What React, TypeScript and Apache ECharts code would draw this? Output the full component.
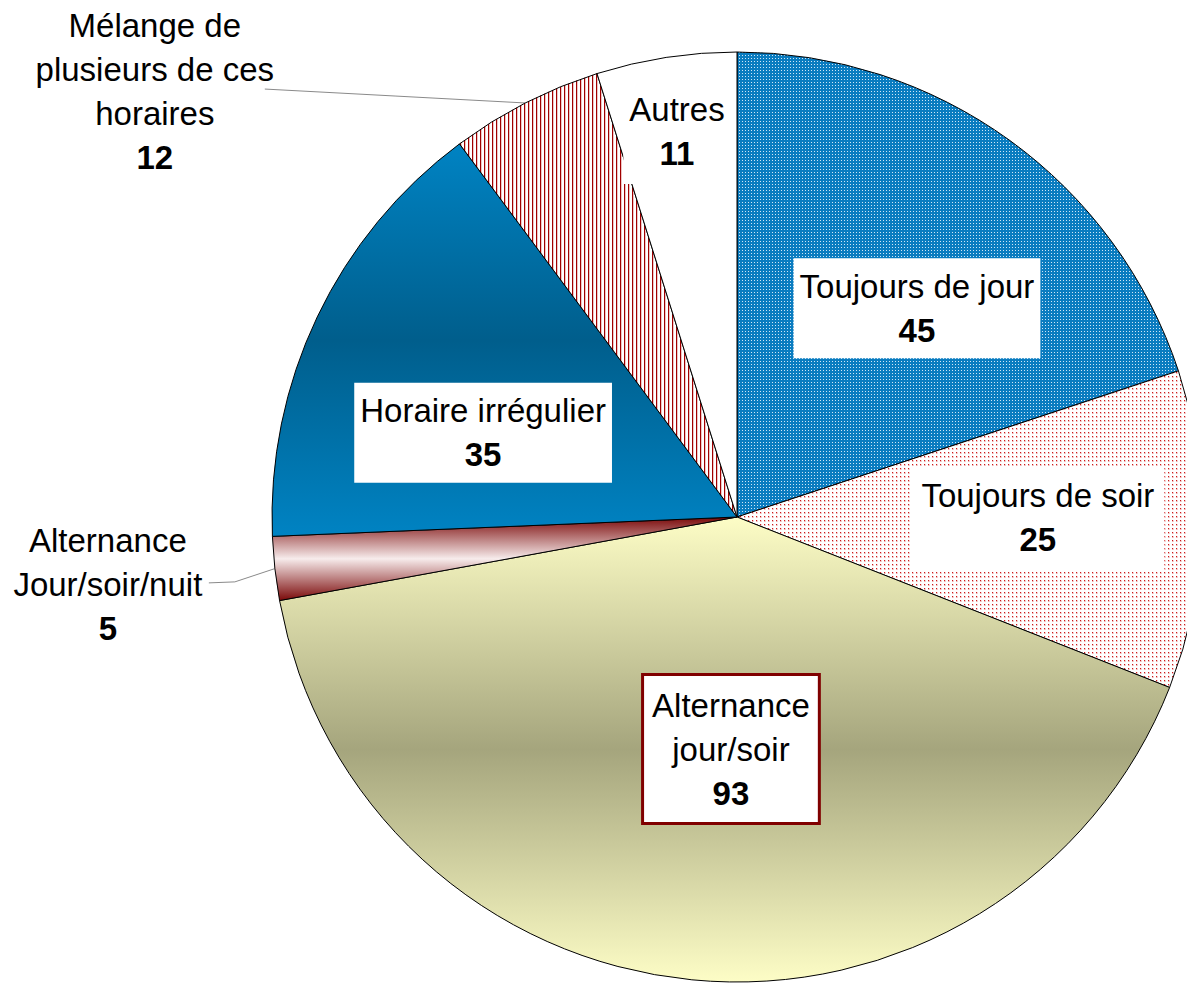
import React, { useEffect, useRef } from 'react';
import * as echarts from 'echarts';

// ---- data ----
const categories = [
  'Toujours de jour',
  'Toujours de soir',
  'Alternance\njour/soir',
  'Alternance\nJour/soir/nuit',
  'Horaire irrégulier',
  'Mélange de\nplusieurs de ces\nhoraires',
  'Autres',
];
const values = [45, 25, 93, 5, 35, 12, 11];

// ---- layout / style (not data) ----
const W = 1187;
const H = 983;
const CX = 737;
const CY = 517;
const R = 465;
const FONT = '"Liberation Sans", Arial, Helvetica, sans-serif';

// label centre offsets from the pie centre, in units of the radius
const labelOffsets: number[][] = [
  [0.387, -0.449],
  [0.647, 0.002],
  [-0.013, 0.499],
  [-1.353, 0.146],
  [-0.546, -0.181],
  [-1.252, -0.916],
  [-0.129, -0.828],
];
const outsideLabel = [false, false, false, true, false, true, false];
// end of leader line relative to label centre (px)
const leaderEnd: Record<number, number[]> = { 3: [101, -2], 5: [110, -2] };

function makePattern(w: number, h: number, draw: (ctx: CanvasRenderingContext2D) => void) {
  const c = document.createElement('canvas');
  c.width = w;
  c.height = h;
  const ctx = c.getContext('2d')!;
  draw(ctx);
  return { image: c, repeat: 'repeat', imageWidth: w, imageHeight: h } as any;
}

function vGrad(edge: string, mid: string) {
  return new echarts.graphic.LinearGradient(0, 0, 0, 1, [
    { offset: 0, color: edge },
    { offset: 0.5, color: mid },
    { offset: 1, color: edge },
  ]);
}

export default function App() {
  const ref = useRef<HTMLDivElement>(null);

  useEffect(() => {
    if (!ref.current) return;
    const chart = echarts.init(ref.current, undefined, { renderer: 'svg' });

    const bluePattern = makePattern(3, 3, (ctx) => {
      ctx.fillStyle = '#0a7cc0';
      ctx.fillRect(0, 0, 3, 3);
      ctx.fillStyle = '#cfe6f6';
      ctx.fillRect(1, 1, 1, 1);
    });
    const redDotPattern = makePattern(4, 4, (ctx) => {
      ctx.fillStyle = '#ffffff';
      ctx.fillRect(0, 0, 4, 4);
      ctx.fillStyle = '#f6d2d2';
      ctx.fillRect(0, 0, 2, 2);
      ctx.fillStyle = '#cc1c1c';
      ctx.fillRect(0, 0, 1, 1);
      ctx.fillStyle = '#ecb0b0';
      ctx.fillRect(0, 1, 1, 1);
    });
    const stripePattern = makePattern(4, 4, (ctx) => {
      ctx.fillStyle = '#ffffff';
      ctx.fillRect(0, 0, 4, 4);
      ctx.fillStyle = '#a00000';
      ctx.fillRect(0, 0, 1, 4);
      ctx.fillStyle = '#eec4c4';
      ctx.fillRect(1, 0, 1, 4);
    });

    const fills: any[] = [
      bluePattern,
      redDotPattern,
      vGrad('#fdfdc6', '#a5a57d'),
      vGrad('#7a0808', '#f7ecec'),
      vGrad('#0083c3', '#005e8c'),
      stripePattern,
      '#ffffff',
    ];

    const boxStyles: any[] = [
      { backgroundColor: '#fff', padding: [6, 6, 6, 6] },
      { backgroundColor: '#fff', padding: [8, 10, 8, 10] },
      { backgroundColor: '#fff', padding: [7, 8, 7, 8], borderColor: '#800000', borderWidth: 3 },
      {},
      { backgroundColor: '#fff', padding: [6, 6, 6, 6] },
      {},
      { backgroundColor: '#fff', padding: [8, 6, 8, 6] },
    ];

    const total = values.reduce((a, b) => a + b, 0);
    const midAngles: number[] = [];
    let acc = 0;
    values.forEach((v) => {
      midAngles.push(((acc + v / 2) / total) * Math.PI * 2);
      acc += v;
    });

    const data = categories.map((name, i) => ({
      name,
      value: values[i],
      itemStyle: { color: fills[i] },
      label: {
        position: outsideLabel[i] ? 'outside' : 'inside',
        ...boxStyles[i],
      },
      labelLine: { show: outsideLabel[i] },
    }));

    chart.setOption({
      animation: false,
      backgroundColor: '#ffffff',
      series: [
        {
          type: 'pie',
          center: [CX, CY],
          radius: R,
          startAngle: 90,
          clockwise: true,
          avoidLabelOverlap: false,
          silent: true,
          emphasis: { disabled: true },
          itemStyle: { borderColor: '#000000', borderWidth: 1 },
          label: {
            show: true,
            formatter: '{n|{b}}\n{v|{c}}',
            color: '#000',
            fontFamily: FONT,
            rich: {
              n: { fontSize: 33, fontFamily: FONT, color: '#000', lineHeight: 44, align: 'center' },
              v: { fontSize: 33, fontFamily: FONT, color: '#000', fontWeight: 'bold', lineHeight: 44, align: 'center' },
            },
          },
          labelLine: {
            lineStyle: { color: '#8a8a8a', width: 1 },
            length: 20,
            length2: 20,
          },
          labelLayout: (p: any) => {
            const i = p.dataIndex;
            const [ox, oy] = labelOffsets[i];
            const x = CX + ox * R;
            const y = CY + oy * R;
            const res: any = { x, y, align: 'center', verticalAlign: 'middle' };
            if (outsideLabel[i]) {
              const a = midAngles[i];
              const ex = CX + R * Math.sin(a);
              const ey = CY - R * Math.cos(a);
              const [lx, ly] = leaderEnd[i];
              const endX = x + lx;
              const endY = y + ly;
              const elbow = i === 3 ? [endX + 26, endY - 1] : [(ex + endX) / 2, (ey + endY) / 2];
              res.labelLinePoints = [[ex, ey], elbow, [endX, endY]];
            }
            return res;
          },
          data,
        },
      ],
    });

    return () => chart.dispose();
  }, []);

  return (
    <div
      ref={ref}
      style={{ position: 'absolute', left: 0, top: 0, width: W, height: H, background: '#fff' }}
    />
  );
}
